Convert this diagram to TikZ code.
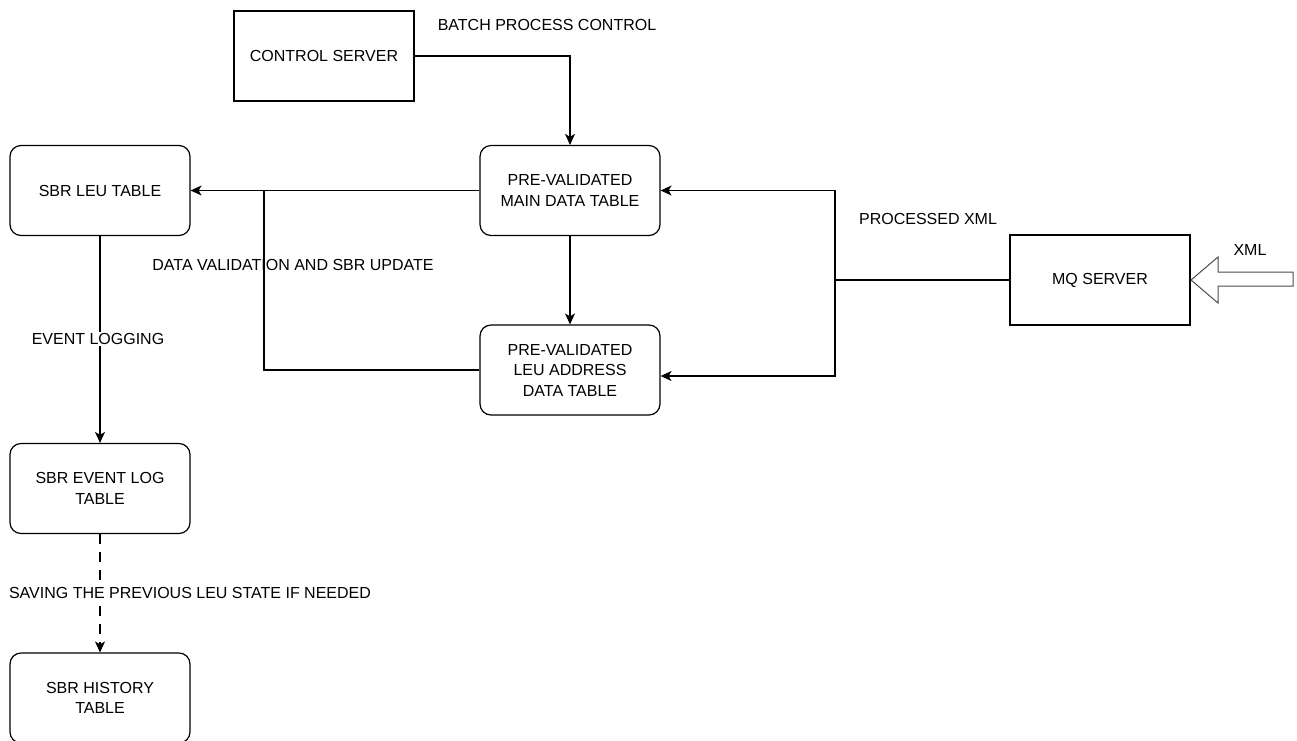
\documentclass[tikz,border=0pt]{standalone}
\usepackage{fontspec}
\setmainfont{Liberation Sans}
\usetikzlibrary{arrows.meta}

\tikzset{
  box/.style={draw, line width=1.2pt, minimum width=180pt, minimum height=90pt, align=center},
  server/.style={box},
  tbl/.style={box, rounded corners=11pt},
  lbl/.style={inner sep=1pt},
  >={Stealth[length=11pt,width=10pt,inset=3pt]}
}

\begin{document}
\begin{tikzpicture}[x=1pt, y=-1pt, line width=1.2pt,
  every node/.style={font=\fontsize{16}{20.5}\selectfont}]
\useasboundingbox (0,0) rectangle (1297,740);
\clip (0,0) rectangle (1297,740);

% boxes
\node[server] (ctrl) at (324,56) {CONTROL SERVER};
\node[tbl] (leu) at (100,190.5) {SBR LEU TABLE};
\node[tbl] (main) at (570,190.5) {PRE-VALIDATED\\MAIN DATA TABLE};
\node[tbl] (addr) at (570,370) {PRE-VALIDATED\\LEU ADDRESS\\DATA TABLE};
\node[server] (mq) at (1100,280) {MQ SERVER};
\node[tbl] (evlog) at (100,488.5) {SBR EVENT LOG\\TABLE};
\node[tbl] (hist) at (100,698) {SBR HISTORY\\TABLE};

% connectors
\coordinate (split) at (264,190.5);
\coordinate (join) at (835,280);
\draw[->] (ctrl.east) -| (main.north);
\draw[->] (main.west) -- (leu.east);
\draw (split) |- (addr.west);
\draw[->] (main) -- (addr);
\draw (mq.west) -- (join);
\draw[->] (join) |- (main.east);
\draw[->] (join) |- ([yshift=-6pt]addr.east);
\draw[->] (leu) -- (evlog);
\draw[->, dash pattern=on 10pt off 8pt] (evlog) -- (hist);

% labels
\node[lbl] (batch) at (547,25) {BATCH PROCESS CONTROL};
\node[lbl] (procxml) at (928,219) {PROCESSED XML};
\node[lbl] (valid) at (293,265) {DATA VALIDATION AND SBR UPDATE};
\node[lbl, fill=white] (evlbl) at (98,339) {EVENT LOGGING};
\node[lbl, fill=white] (savelbl) at (190,593) {SAVING THE PREVIOUS LEU STATE IF NEEDED};
\node[lbl] (xmllbl) at (1250,250) {XML};

% incoming xml
\draw[line width=1pt, draw=black!70] (1191,280) -- (1218,257) -- (1218,272) -- (1293,272)
  -- (1293,286) -- (1218,286) -- (1218,303) -- cycle;
\end{tikzpicture}
\end{document}
